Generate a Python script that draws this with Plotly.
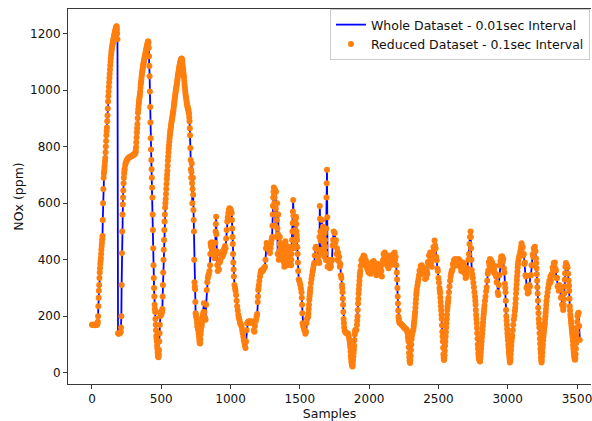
import plotly.graph_objects as go

# NOx trace sampled every 4th index; each line below holds 25 readings (100 samples)
sample_step = 4
nox_ppm = [
    170, 170, 170, 169, 170, 168, 170, 171, 169, 170, 172, 200, 265, 310, 355, 385, 405, 435, 460, 484, 600, 690, 715, 735, 760,
    800, 840, 868, 910, 960, 995, 1028, 1058, 1088, 1112, 1135, 1148, 1162, 1172, 1182, 1192, 1202, 1210, 1218, 1225, 1215, 1180, 140, 138, 139,
    140, 141, 145, 200, 423, 560, 620, 670, 705, 722, 735, 742, 748, 752, 755, 758, 760, 762, 763, 764, 765, 766, 767, 769, 770,
    771, 772, 774, 776, 785, 815, 850, 880, 920, 945, 962, 978, 995, 1020, 1037, 1055, 1070, 1083, 1095, 1105, 1115, 1125, 1135, 1145, 1155,
    1163, 1172, 1168, 1120, 1049, 940, 830, 753, 690, 620, 505, 380, 300, 240, 215, 170, 130, 110, 85, 60, 55, 80, 140, 200, 215,
    205, 212, 225, 310, 400, 470, 535, 585, 615, 650, 685, 715, 750, 780, 805, 830, 850, 865, 880, 893, 905, 918, 930, 948, 965,
    980, 995, 1008, 1020, 1035, 1050, 1062, 1075, 1086, 1096, 1104, 1110, 1112, 1100, 1080, 1060, 1045, 1020, 1000, 982, 970, 955, 945, 935, 930,
    915, 890, 840, 753, 690, 740, 600, 690, 576, 500, 320, 295, 210, 200, 190, 165, 158, 150, 130, 110, 103, 135, 160, 170, 190,
    205, 215, 246, 215, 195, 187, 240, 293, 320, 335, 345, 350, 360, 380, 459, 445, 462, 440, 455, 430, 420, 405, 420, 500, 552,
    430, 380, 360, 385, 365, 395, 392, 420, 405, 425, 410, 430, 418, 438, 428, 448, 440, 475, 505, 535, 550, 565, 575, 582, 580,
    578, 572, 565, 510, 455, 390, 340, 310, 300, 290, 275, 255, 235, 220, 205, 195, 187, 178, 172, 170, 163, 150, 140, 127, 115,
    105, 95, 87, 110, 150, 175, 178, 180, 182, 180, 181, 178, 182, 178, 176, 178, 175, 150, 145, 165, 182, 188, 200, 208, 250,
    293, 310, 325, 340, 352, 360, 363, 358, 362, 363, 368, 372, 375, 400, 440, 459, 450, 448, 446, 438, 430, 423, 440, 455, 470,
    480, 560, 620, 655, 600, 648, 520, 640, 480, 600, 420, 560, 400, 430, 480, 440, 420, 400, 430, 446, 435, 400, 375, 430, 465,
    440, 420, 395, 380, 430, 446, 420, 400, 385, 380, 420, 470, 530, 611, 500, 440, 470, 540, 552, 500, 470, 420, 360, 330, 325,
    317, 310, 298, 285, 240, 175, 165, 158, 151, 148, 138, 145, 175, 190, 195, 199, 225, 258, 280, 300, 317, 332, 345, 358, 368,
    380, 388, 415, 440, 446, 440, 436, 435, 412, 395, 388, 590, 500, 435, 423, 540, 470, 517, 455, 411, 494, 445, 399, 620, 718,
    375, 400, 378, 392, 370, 385, 375, 395, 400, 450, 470, 500, 455, 494, 460, 470, 420, 440, 400, 425, 395, 410, 375, 385, 345,
    335, 310, 285, 240, 190, 160, 148, 144, 142, 140, 140, 140, 138, 130, 120, 110, 90, 60, 40, 28, 22, 45, 70, 95, 135,
    151, 150, 151, 170, 200, 245, 280, 310, 340, 360, 378, 398, 385, 405, 395, 415, 400, 410, 388, 398, 375, 390, 365, 375, 355,
    370, 352, 372, 350, 378, 362, 392, 370, 395, 372, 388, 360, 372, 345, 365, 352, 385, 366, 380, 355, 372, 345, 360, 340, 385,
    398, 420, 405, 425, 410, 418, 395, 405, 378, 392, 370, 400, 390, 415, 395, 405, 382, 408, 398, 420, 405, 425, 400, 410, 380,
    355, 300, 245, 198, 182, 176, 175, 173, 171, 169, 167, 165, 163, 160, 158, 156, 155, 153, 150, 142, 128, 110, 70, 42, 34,
    60, 100, 130, 140, 148, 155, 175, 195, 215, 245, 275, 295, 308, 320, 332, 345, 362, 355, 378, 360, 380, 362, 372, 348, 355,
    350, 332, 352, 336, 360, 350, 392, 380, 415, 395, 425, 400, 390, 375, 408, 420, 445, 432, 468, 450, 440, 410, 398, 368, 360,
    335, 318, 300, 281, 250, 220, 190, 145, 110, 65, 45, 62, 95, 127, 160, 190, 222, 245, 265, 285, 305, 325, 340, 352, 362,
    362, 385, 375, 398, 385, 402, 390, 398, 380, 395, 385, 402, 392, 399, 375, 385, 360, 378, 365, 390, 375, 385, 352, 370, 335,
    352, 340, 370, 362, 400, 420, 455, 480, 500, 440, 363, 348, 335, 318, 302, 285, 269, 240, 205, 175, 140, 100, 69, 52, 44,
    40, 60, 85, 112, 140, 165, 192, 215, 238, 255, 270, 288, 302, 325, 350, 362, 392, 380, 402, 385, 398, 378, 390, 360, 365,
    365, 352, 378, 350, 340, 320, 318, 285, 275, 310, 345, 380, 395, 410, 395, 412, 392, 402, 370, 355, 315, 285, 222, 185, 155,
    128, 100, 75, 55, 36, 50, 80, 110, 132, 150, 170, 188, 202, 218, 245, 280, 312, 342, 372, 395, 405, 414, 422, 432, 445,
    458, 440, 445, 415, 420, 385, 390, 345, 340, 300, 305, 280, 290, 285, 310, 305, 345, 345, 380, 380, 418, 410, 440, 428, 446,
    430, 405, 370, 325, 280, 230, 190, 160, 120, 85, 55, 36, 58, 88, 115, 140, 160, 175, 200, 225, 255, 270, 285, 300, 312,
    325, 315, 340, 325, 348, 345, 372, 362, 388, 375, 390, 368, 362, 335, 335, 305, 305, 290, 310, 295, 300, 265, 268, 240, 240,
    222, 240, 280, 330, 375, 388, 382, 378, 372, 350, 325, 290, 235, 205, 185, 165, 145, 125, 98, 75, 58, 48, 50, 85, 125,
    160, 200, 210, 212, 165, 116,
]
grid_samples = list(range(0, sample_step * len(nox_ppm), sample_step))

# Additional in-between readings along the steep rises, falls and spiky stretches
steep_samples = [
    42, 46, 50, 54, 58, 62, 66, 70, 74, 78, 82, 86, 90, 94, 98, 102, 106, 110, 114, 118, 122, 126, 130, 134,
    138, 142, 146, 150, 154, 158, 162, 166, 170, 174, 178, 182,
    210, 214, 218, 222, 226, 230, 234,
    314, 318, 322, 326, 330, 334, 338, 342, 346, 350, 354, 358, 362, 366, 370, 374, 378, 382, 386, 390, 394,
    398, 402, 406,
    410, 414, 418, 422, 426, 430, 434, 438, 442, 446, 450, 454, 458, 462, 466, 470, 474, 478, 482, 486, 490,
    506, 510, 514, 518, 522, 526, 530, 534, 538, 542, 546, 550, 554, 558, 562, 566, 570, 574, 578, 582, 586,
    590, 594, 598, 602, 606, 610, 614, 618, 622, 626, 630, 634, 638, 642, 646, 650,
    654, 658, 662, 666, 670, 674, 678, 682, 686, 690, 694, 698, 702, 706, 710, 714, 718, 722, 726, 730, 734,
    738, 742, 746, 750, 754, 758, 762, 766, 770, 774, 778, 782, 786, 790, 794, 798,
    854, 858, 862, 866, 870, 874, 878, 882, 886, 890, 894, 898,
    1010, 1014, 1018, 1022, 1198, 1202,
    1302, 1306, 1310, 1314, 1318, 1322, 1326, 1330, 1334, 1338, 1342, 1346, 1350, 1354, 1358, 1362, 1366,
    1370, 1374, 1378, 1382, 1386, 1390, 1394, 1398, 1402, 1406, 1410, 1414, 1418, 1422, 1426, 1430, 1434,
    1438, 1442, 1446, 1450, 1454, 1458, 1462, 1466, 1470, 1474, 1478, 1482, 1486,
    1514, 1518, 1562, 1566, 1570, 1574,
    1642, 1646, 1650, 1654, 1658, 1662, 1666, 1670, 1674, 1678, 1682, 1686, 1690, 1694, 1698,
    1806, 1810, 1814, 1818, 1862, 1866, 1870, 1874, 1878, 1882, 1886, 1890, 1894, 1898,
    1914, 1918, 1922, 1926, 1930, 1934, 2202, 2206, 2210, 2214,
    2282, 2286, 2290, 2294, 2298, 2302, 2306, 2322, 2326, 2330, 2334, 2338, 2342,
    2510, 2514, 2518, 2522, 2526, 2530, 2534, 2538, 2542, 2546, 2550, 2554, 2558, 2562, 2566, 2570,
    2734, 2738, 2766, 2770, 2774, 2778, 2782, 2786, 2790, 2794, 2798, 2802, 2806, 2810, 2814, 2818, 2822,
    2826, 2830,
    2982, 2986, 2990, 2994, 2998, 3002, 3006, 3010, 3014, 3018, 3022, 3026, 3030, 3054, 3058, 3062, 3066,
    3070, 3074,
    3206, 3210, 3214, 3218, 3222, 3226, 3230, 3234, 3238, 3242, 3246, 3250, 3254, 3258, 3262, 3266, 3270,
    3274, 3278,
    3402, 3406, 3410, 3414,
    3442, 3446, 3450, 3454, 3458, 3462, 3466, 3470, 3474, 3478, 3482, 3486, 3490, 3494, 3498, 3502, 3506,
]
steep_nox = [
    180, 235, 290, 335, 370, 395, 420, 448, 472, 540, 650, 705, 725, 748, 780, 820, 855, 890, 935, 978, 1012, 1043, 1073, 1100,
    1124, 1142, 1155, 1167, 1177, 1187, 1197, 1206, 1214, 1222, 1226, 1200,
    160, 310, 500, 595, 645, 690, 715,
    780, 798, 832, 865, 900, 932, 954, 970, 986, 1008, 1028, 1046, 1062, 1076, 1089, 1100, 1110, 1120, 1130, 1140, 1150,
    1159, 1168, 1172,
    1150, 1085, 995, 885, 790, 720, 655, 560, 440, 335, 270, 225, 190, 150, 120, 95, 72, 57, 65, 110, 170,
    218, 270, 355, 435, 505, 560, 600, 632, 668, 700, 732, 765, 793, 818, 840, 858, 873, 887, 899, 912, 924,
    940, 957, 972, 988, 1002, 1014, 1028, 1043, 1056, 1069, 1081, 1091, 1100, 1107, 1111, 1106,
    1090, 1070, 1052, 1032, 1010, 991, 976, 962, 950, 940, 932, 922, 903, 865, 795, 720, 710, 670, 650, 630, 540,
    400, 305, 250, 205, 195, 178, 162, 154, 140, 120, 105, 118, 148, 165, 180, 198,
    420, 452, 453, 458, 447, 442, 425, 412, 412, 460, 526, 490,
    540, 480, 420, 365, 270, 300,
    520, 590, 640, 625, 620, 585, 580, 560, 540, 510, 490, 480, 415, 455, 460, 430, 410,
    415, 438, 440, 418, 388, 402, 448, 452, 430, 408, 388, 405, 438, 433, 410, 392, 382,
    400, 445, 500, 570, 555, 470, 455, 505, 546, 526, 485, 445, 390,
    265, 210, 210, 240, 270, 290,
    480, 545, 468, 430, 480, 505, 494, 486, 433, 452, 470, 422, 510, 670, 550,
    300, 262, 215, 175, 100, 75, 50, 34, 25, 32, 58, 82, 115, 145,
    185, 222, 262, 295, 325, 350, 330, 270, 220, 190,
    120, 90, 55, 38, 45, 80, 118, 165, 185, 205, 230, 260, 285,
    290, 265, 235, 205, 168, 128, 88, 55, 50, 78, 110, 143, 175, 205, 234, 255,
    480, 400, 255, 222, 190, 158, 120, 85, 60, 48, 42, 50, 72, 98, 126, 152, 178,
    204, 226,
    300, 255, 200, 170, 140, 115, 88, 65, 45, 42, 65, 95, 122, 230, 262, 296, 328,
    357, 384,
    388, 348, 302, 255, 210, 175, 140, 102, 70, 45, 45, 72, 100, 128, 150, 168, 188,
    212, 240,
    230, 260, 305, 352,
    308, 262, 220, 195, 175, 155, 135, 112, 86, 66, 52, 46, 65, 105, 142, 180, 205,
]

# Merge both sets of readings into one series ordered by sample index
merged = sorted(zip(grid_samples + steep_samples, nox_ppm + steep_nox))
samples = [s for s, _ in merged]
nox_values = [v for _, v in merged]

whole_name = "Whole Dataset - 0.01sec Interval"
reduced_name = "Reduced Dataset - 0.1sec Interval"

x_ticks = [0, 500, 1000, 1500, 2000, 2500, 3000, 3500]
y_ticks = [0, 200, 400, 600, 800, 1000, 1200]

fig = go.Figure()
fig.add_trace(go.Scatter(
    x=samples, y=nox_values, mode="lines", name=whole_name,
    line=dict(color="#0000ff", width=1.8),
))
fig.add_trace(go.Scatter(
    x=samples, y=nox_values, mode="markers", name=reduced_name,
    marker=dict(color="#ff7f0e", size=6, line=dict(width=0)),
))

axis_style = dict(
    showgrid=False, zeroline=False, showline=True, linecolor="#3a3a3a", linewidth=1,
    ticks="outside", ticklen=4, tickwidth=1, tickcolor="#3a3a3a",
    tickfont=dict(size=12, color="#111"),
)

fig.update_layout(
    width=592, height=421,
    margin=dict(l=68, r=1, t=9, b=37, autoexpand=False),
    paper_bgcolor="white", plot_bgcolor="white",
    font=dict(family="DejaVu Sans", size=12, color="#111"),
    showlegend=True,
    legend=dict(
        x=0.998, y=1.0, xanchor="right", yanchor="top",
        bgcolor="rgba(255,255,255,0.85)", bordercolor="#cccccc", borderwidth=1,
        font=dict(size=12.5, color="#111"),
        itemwidth=30, tracegroupgap=0,
    ),
    xaxis=dict(
        range=[-173, 3601], tickvals=x_ticks, mirror=True, ticklabeloverflow="allow",
        title=dict(text="Samples", standoff=13, font=dict(size=12.5)),
        **axis_style,
    ),
    yaxis=dict(
        range=[-40, 1287], tickvals=y_ticks,
        title=dict(text="NOx (ppm)", standoff=3, font=dict(size=12.5)),
        **axis_style,
    ),
)

fig.write_html("out.html")
